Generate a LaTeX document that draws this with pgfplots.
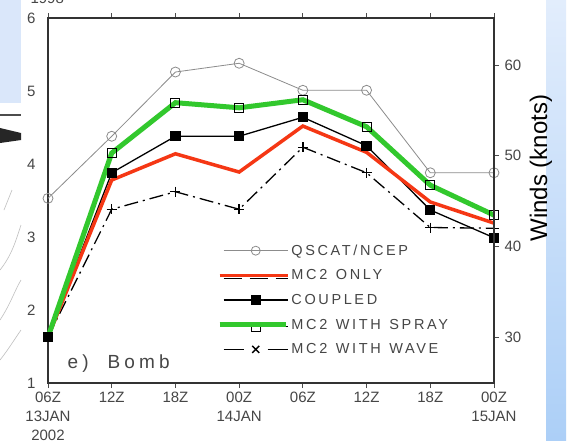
\documentclass[border=0pt]{standalone}
\usepackage{fontspec}
\setmainfont{Liberation Sans}
\newfontfamily\spaced[LetterSpace=18]{Liberation Sans}
\newfontfamily\spacedb[LetterSpace=22]{Liberation Sans}
\usepackage{pgfplots}
\pgfplotsset{compat=1.18}
\definecolor{mred}{RGB}{245,55,20}
\definecolor{mgreen}{RGB}{50,200,45}
\definecolor{tgray}{RGB}{70,70,70}
\definecolor{qgray}{RGB}{140,140,140}
\definecolor{lblue}{RGB}{218,231,250}
\definecolor{bandtop}{RGB}{226,237,252}
\definecolor{bandbot}{RGB}{172,207,247}

\pgfplotstableread{
x qscat only coupled spray wave
0 3.53 1.63 1.63 1.63 1.63
1 4.38 3.78 3.88 4.15 3.38
2 5.26 4.14 4.38 4.84 3.62
3 5.38 3.89 4.38 4.77 3.38
4 5.01 4.52 4.64 4.88 4.23
5 5.01 4.16 4.25 4.51 3.88
6 3.88 3.48 3.37 3.71 3.13
7 3.88 3.19 2.99 3.30 3.12
}\datatable

\newcommand{\wsp}{\ \hspace{2pt}}

\begin{document}
\begin{tikzpicture}[x=1pt,y=1pt]
\path[use as bounding box] (0,0) rectangle (578,440);
\fill[white] (0,0) rectangle (578,440);
% left-side background remnants
\fill[lblue] (0,337) rectangle (21,440);
\draw[black!70, line width=1.5pt] (0,325) -- (21,325);
\fill[black!85] (0,312) -- (21,307) -- (21,300) -- (0,297) -- cycle;
\draw[black!25, line width=0.6pt] (0,170) .. controls (12,185) and (16,200) .. (21,215);
\draw[black!25, line width=0.6pt] (0,120) .. controls (10,135) and (15,150) .. (21,160);
\draw[black!25, line width=0.6pt] (0,80) .. controls (8,90) and (14,100) .. (21,110);
\draw[black!25, line width=0.6pt] (4,230) -- (12,250);
% right band
\shade[top color=bandtop, bottom color=bandbot] (546,0) rectangle (566,440);

\begin{axis}[
  at={(48pt,57pt)}, anchor=south west, scale only axis,
  width=446pt, height=365pt,
  xmin=0, xmax=7, ymin=1, ymax=6,
  axis line style={draw=black!80, line width=1.6pt},
  xtick={0,...,7},
  xticklabels={{06Z\\13JAN\\2002},{12Z},{18Z},{00Z\\14JAN},{06Z},{12Z},{18Z},{00Z\\15JAN}},
  ytick={1,...,6},
  tick align=outside,
  major tick length=5pt,
  ytick style={draw=none},
  xtick style={black!70, line width=0.8pt},
  tick label style={font=\fontsize{15}{19}\selectfont, text=tgray},
  xticklabel style={align=center},
  yticklabel style={xshift=-4pt},
  /pgf/number format/assume math mode=true,
  clip=false,
  legend cell align=left,
  legend style={at={(0.379,0.385)}, anchor=north west, draw=none, fill=none,
    inner sep=0pt, row sep=9pt,
    font=\spaced\fontsize{14.5}{17}\selectfont, text=tgray},
  legend image code/.code={\draw[mark repeat=2,mark phase=2,#1] plot coordinates {(0pt,0pt) (32pt,0pt) (64pt,0pt)};},
]
% legend entries
\addlegendimage{qgray, line width=0.8pt, mark=o, mark size=4.5pt, mark options={fill=white, line width=0.8pt}}
\addlegendentry{QSCAT/NCEP}
\addlegendimage{legend image code/.code={
  \draw[black, line width=1pt, dash pattern=on 18pt off 8pt] (0pt,-3pt) -- (64pt,-3pt);
  \draw[mred, line width=3.5pt] (-4pt,0pt) -- (64pt,0pt);}}
\addlegendentry{MC2\wsp ONLY}
\addlegendimage{black, line width=1.3pt, mark=square*, mark size=4.5pt}
\addlegendentry{COUPLED}
\addlegendimage{legend image code/.code={
  \draw[black, line width=1pt, mark=square, mark size=4.5pt, mark options={fill=white}, mark repeat=2, mark phase=2] plot coordinates {(0pt,-2pt) (32pt,-2pt) (64pt,-2pt)};
  \draw[mgreen, line width=5pt] (-4pt,0pt) -- (62pt,0pt);}}
\addlegendentry{MC2\wsp WITH\wsp SPRAY}
\addlegendimage{legend image code/.code={
  \draw[black, line width=1.3pt] (0pt,0pt) -- (20pt,0pt);
  \draw[black, line width=1.3pt] (44pt,0pt) -- (64pt,0pt);
  \draw[black, line width=1.5pt, only marks, mark=x, mark size=5pt] plot coordinates {(32pt,0pt)};}}
\addlegendentry{MC2\wsp WITH\wsp WAVE}

% data
\addplot[forget plot, qgray, line width=0.8pt, mark=o, mark size=5pt, mark options={fill=white, line width=0.8pt}] table[x=x,y=qscat]{\datatable};
\addplot[forget plot, black, line width=1.3pt, dash pattern=on 14pt off 5pt on 2pt off 5pt, mark=+, mark size=5pt, mark options={solid, line width=1.3pt}] table[x=x,y=wave]{\datatable};
\addplot[forget plot, black, line width=1.3pt, mark=square*, mark size=4.5pt] table[x=x,y=coupled]{\datatable};
\addplot[forget plot, black, line width=1pt, mark=square, mark size=4.5pt, mark options={fill=white}] table[x=x,y=spray]{\datatable};
\addplot[forget plot, mred, line width=3.5pt] table[x=x,y=only]{\datatable};
\addplot[forget plot, mgreen, line width=5pt] table[x=x,y=spray]{\datatable};
\end{axis}

\begin{axis}[
  at={(48pt,57pt)}, anchor=south west, scale only axis,
  width=446pt, height=365pt,
  xmin=0, xmax=7, ymin=24.93, ymax=65.2,
  axis x line=none, axis y line*=right,
  axis line style={draw=black!80, line width=1.6pt},
  ytick={30,40,50,60},
  tick align=outside, major tick length=5pt,
  ytick style={black!70, line width=0.8pt},
  tick label style={font=\fontsize{15}{19}\selectfont, text=tgray},
  yticklabel style={xshift=2pt},
  /pgf/number format/assume math mode=true,
]
\end{axis}

\node[anchor=west, text=tgray, font=\spacedb\fontsize{19}{19}\selectfont] at (64,76) {e)\ \ Bomb};
\node[anchor=base west, text=tgray, font=\fontsize{15}{15}\selectfont] at (27,436) {1998};
\node[rotate=90, font=\fontsize{24}{24}\selectfont] at (541,272) {Winds (knots)};
\end{tikzpicture}
\end{document}
